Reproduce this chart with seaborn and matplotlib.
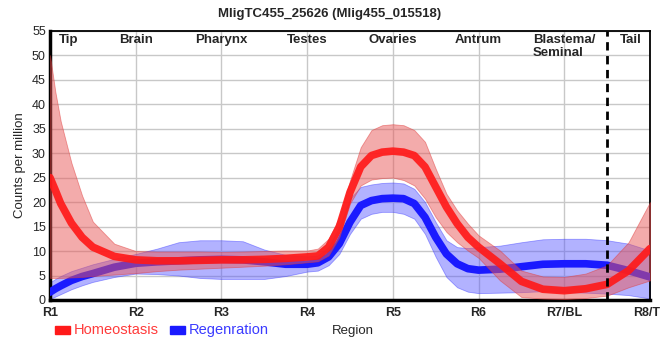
import numpy as np
import pandas as pd
import matplotlib
matplotlib.use('Agg')
import matplotlib.pyplot as plt
import seaborn as sns

# ----------------------- Data -------------------------------------------
pos = [1, 1.0625, 1.125, 1.25, 1.375, 1.5, 1.75, 2, 2.25, 2.5, 2.75, 3, 3.25,
       3.5, 3.75, 4, 4.125, 4.25, 4.375, 4.5, 4.625, 4.75, 4.875, 5, 5.125,
       5.25, 5.375, 5.5, 5.625, 5.75, 5.875, 6, 6.25, 6.5, 6.75, 7, 7.25, 7.5,
       7.75, 8]

homeo = [25, 22.4, 19.7, 15.7, 12.8, 10.8, 8.9, 8.2, 8.0, 8.0, 8.1, 8.2, 8.2,
         8.3, 8.5, 8.8, 9.0, 10.8, 14.9, 22.0, 27.2, 29.5, 30.2, 30.4, 30.2,
         29.5, 27.2, 23.1, 19.0, 15.6, 12.8, 10.8, 7.4, 3.8, 2.2, 1.9, 2.3, 3.2,
         6.0, 10.5]
homeo_hi = [50, 42.5, 36.5, 28.0, 21.3, 16.0, 11.5, 10.0, 9.9, 9.9, 9.9, 9.8, 9.9,
            10.0, 10.1, 10.1, 10.5, 12.5, 16.9, 24.4, 31.2, 34.7, 35.7, 35.9, 35.7,
            34.7, 32.3, 26.8, 21.7, 18.3, 15.6, 13.2, 10.1, 6.0, 4.8, 4.7, 5.4, 7.1,
            11.8, 20]
homeo_lo = [4.5, 4.5, 4.5, 4.6, 4.7, 4.9, 5.2, 5.5, 5.9, 6.2, 6.4, 6.6, 6.8,
            7.0, 7.3, 7.7, 7.9, 9.1, 12.8, 19.7, 23.4, 24.6, 24.9, 25.0, 24.5,
            23.4, 20.7, 16.9, 13.9, 11.8, 10.1, 8.6, 4.0, 0.6, 0.3, 0.2, 0.4, 0.9,
            2.6, 4.0]

regen = [1.6, 2.3, 2.9, 4.0, 4.8, 5.4, 6.7, 7.5, 7.8, 8.0, 8.2, 8.3, 8.2,
         7.8, 7.3, 7.3, 7.6, 8.8, 11.5, 15.9, 19.3, 20.3, 20.7, 20.8, 20.7,
         19.7, 16.9, 12.8, 9.4, 7.4, 6.4, 6.1, 6.3, 6.8, 7.3, 7.4, 7.4, 7.1,
         6.0, 4.7]
regen_hi = [3.6, 4.3, 4.9, 5.9, 6.6, 7.3, 8.4, 9.4, 10.5, 11.8, 12.2, 12.2, 12.0,
            10.3, 9.2, 8.9, 9.1, 10.8, 14.9, 20.7, 23.1, 23.6, 23.9, 24.0, 23.8,
            22.7, 20.0, 15.9, 12.2, 10.8, 10.6, 10.8, 11.1, 11.8, 12.4, 12.5, 12.5, 12.2,
            11.5, 10.1]
regen_lo = [0.2, 0.7, 1.2, 2.2, 3.0, 3.7, 4.7, 5.4, 5.3, 5.0, 4.5, 4.3, 4.3,
            4.3, 4.9, 5.8, 6.0, 7.1, 9.4, 13.5, 16.6, 17.6, 18.0, 18.0, 17.6,
            16.6, 13.5, 8.8, 4.7, 2.6, 1.7, 1.4, 1.5, 1.6, 1.8, 1.6, 1.5, 1.3,
            1.0, 0.3]

tick_labels = ['R1', 'R2', 'R3', 'R4', 'R5', 'R6', 'R7/BL', 'R8/TL']
region_names = ['Tip', 'Brain', 'Pharynx', 'Testes', 'Ovaries', 'Antrum',
                'Blastema/\nSeminal', 'Tail']
region_pos = [1.22, 2, 3, 4, 5, 6, 7, 7.78]

df = pd.DataFrame({'pos': pos, 'homeo': homeo, 'regen': regen})

RED = '#ff1a1a'
BLUE = '#1a1aff'

# ----------------------- Plot -------------------------------------------
sns.set_style('whitegrid')
plt.rcParams['font.family'] = ['Liberation Sans', 'DejaVu Sans']

fig = plt.figure(figsize=(6.6, 3.6), dpi=100)
ax = fig.add_axes([50 / 660, 60 / 360, 600 / 660, 269.3 / 360])

ax.fill_between(pos, regen_lo, regen_hi, color='#5555ff', alpha=0.45,
                edgecolor='#3333ff', linewidth=0.6, zorder=2)
sns.lineplot(data=df, x='pos', y='regen', color=BLUE, linewidth=5.5,
             solid_joinstyle='round', ax=ax, zorder=3)
ax.fill_between(pos, homeo_lo, homeo_hi, color='#e85858', alpha=0.5,
                edgecolor='#e03a3a', linewidth=0.6, zorder=4)
sns.lineplot(data=df, x='pos', y='homeo', color=RED, linewidth=5.5,
             solid_joinstyle='round', alpha=0.92, ax=ax, zorder=5)

ax.axvline(7.5, color='black', linestyle=(0, (3, 2)), linewidth=2, zorder=6)

for x, name in zip(region_pos, region_names):
    ax.text(x, 54.4, name, ha='center', va='top', multialignment='left',
            fontsize=9.5, fontweight='bold', zorder=7)

ax.set_xlim(1, 8)
ax.set_ylim(0, 55)
ax.set_xticks(range(1, 9))
ax.set_xticklabels(tick_labels, fontweight='bold', fontsize=9)
ax.set_yticks(range(0, 56, 5))
ax.tick_params(axis='y', labelsize=9, length=0, pad=3)
ax.tick_params(axis='x', length=0, pad=5)
ax.grid(color='#c8c8c8', linewidth=1)
for lbl in ax.get_xticklabels():
    lbl.set_clip_on(False)

for side in ['top', 'right']:
    ax.spines[side].set_color('black')
    ax.spines[side].set_linewidth(1.3)
for side in ['left', 'bottom']:
    ax.spines[side].set_color('black')
    ax.spines[side].set_linewidth(2.5)

ax.set_xlabel('')
ax.set_ylabel('Counts per million', fontsize=9.5, labelpad=4)

fig.text(0.5, 0.978, 'MligTC455_25626 (Mlig455_015518)', ha='center',
         va='top', fontsize=9.5, fontweight='bold')
fig.text(332 / 660, 1 - 331 / 360, 'Region', ha='left', va='center', fontsize=9.5)

# legend drawn by hand below the axis
fig.patches.append(plt.Rectangle((55 / 660, 1 - 334 / 360), 15 / 660, 8 / 360,
                                 transform=fig.transFigure, color=RED, figure=fig))
fig.text(74 / 660, 1 - 330 / 360, 'Homeostasis', color='#ff3b3b', ha='left',
         va='center', fontsize=10.5)
fig.patches.append(plt.Rectangle((170 / 660, 1 - 334 / 360), 15 / 660, 8 / 360,
                                 transform=fig.transFigure, color=BLUE, figure=fig))
fig.text(189 / 660, 1 - 330 / 360, 'Regenration', color='#3b3bff', ha='left',
         va='center', fontsize=10.5)

fig.savefig('out.png', dpi=100)
